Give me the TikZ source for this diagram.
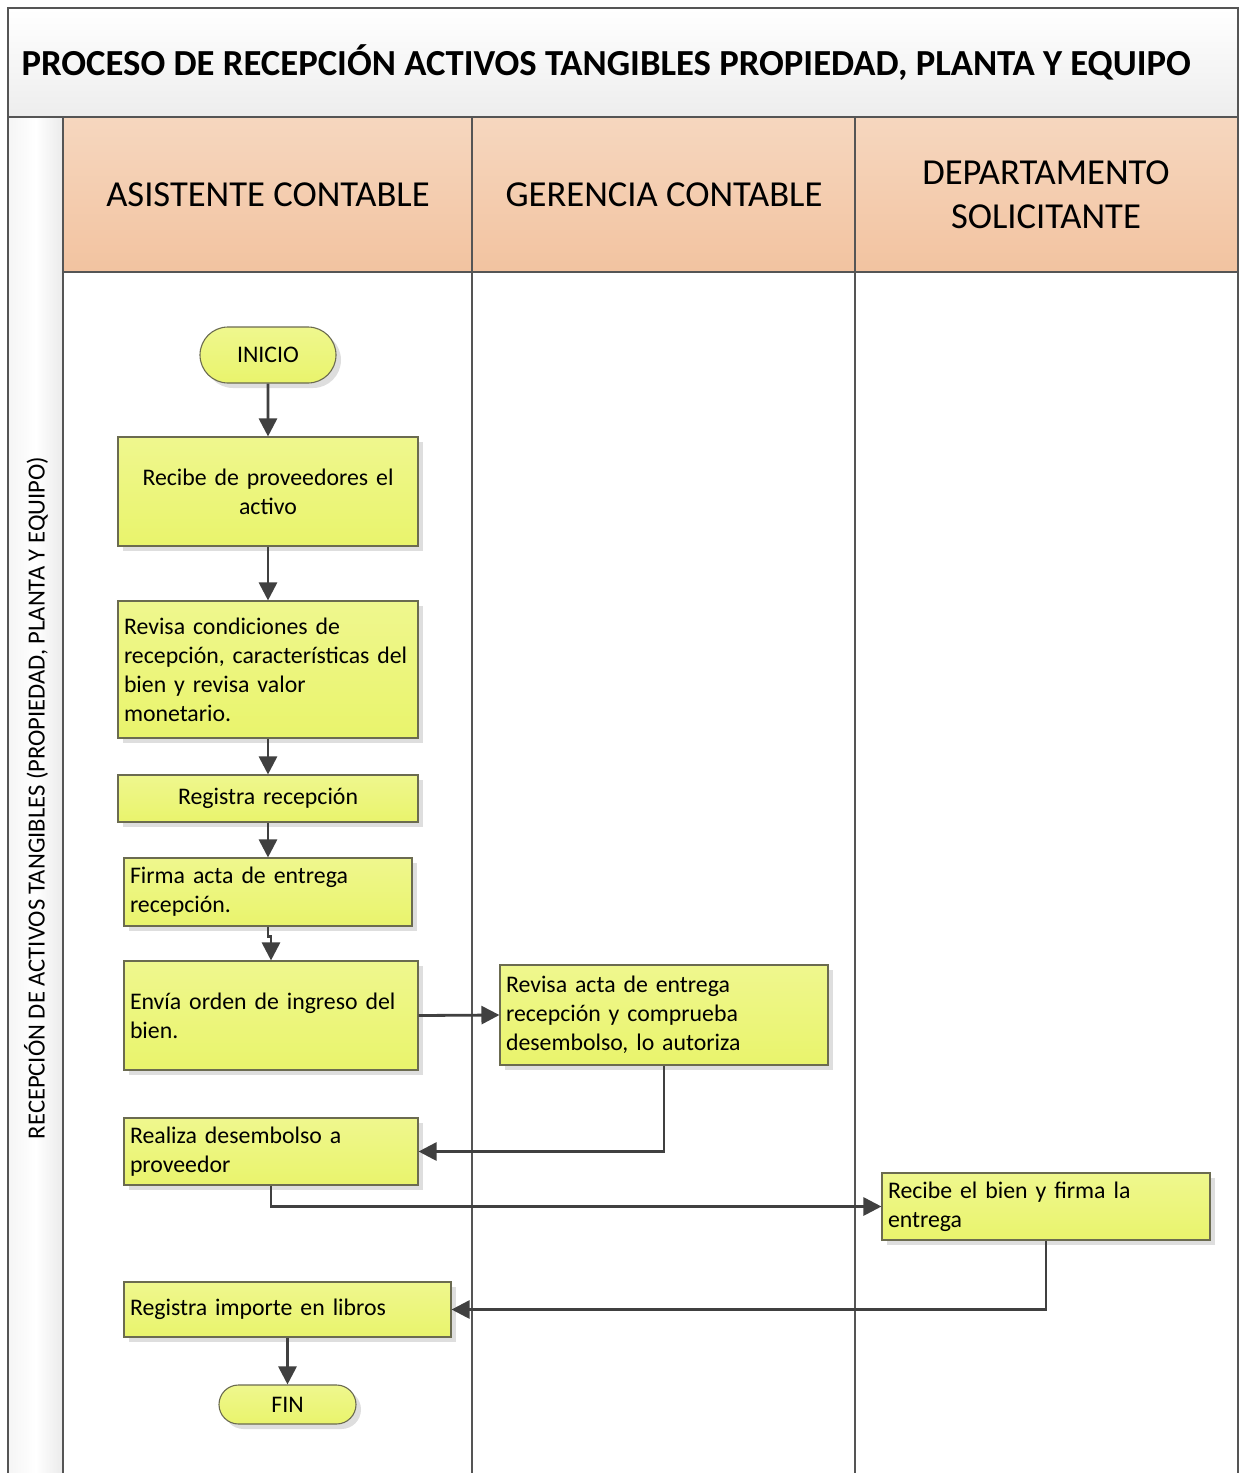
\documentclass[tikz,border=0pt]{standalone}
\usepackage{fontspec}
\setmainfont{Carlito}
\usetikzlibrary{arrows.meta,shapes.misc,shadows}
\definecolor{frameline}{HTML}{555555}
\definecolor{flowline}{HTML}{404040}
\definecolor{boxline}{HTML}{6B6B50}
\definecolor{boxtop}{HTML}{EFF78E}
\definecolor{boxbot}{HTML}{E9F46C}
\definecolor{headtop}{HTML}{F6D7BF}
\definecolor{headbot}{HTML}{F2C3A0}
\begin{document}
\begin{tikzpicture}[x=1pt,y=-1pt,
  lanehead/.style={font=\fontsize{36.6}{44}\selectfont, align=center, text=black},
  stepbox/.style={draw=boxline, line width=1.1pt, top color=boxtop, bottom color=boxbot,
    drop shadow={shadow xshift=5pt, shadow yshift=-5pt, fill=black, opacity=0.13},
    font=\fontsize{23.8}{29}\selectfont, inner xsep=6pt, inner ysep=0pt, align=left},
  terminal/.style={rounded rectangle, draw=boxline, line width=1.1pt, top color=boxtop, bottom color=boxbot,
    drop shadow={shadow xshift=5pt, shadow yshift=-5pt, fill=black, opacity=0.13},
    font=\fontsize{23.8}{29}\selectfont, inner sep=0pt},
  flow/.style={draw=flowline, line width=2.8pt, -{Triangle[length=18pt,width=18pt]}}]
\useasboundingbox (0,0) rectangle (1240,1473);
\fill[white] (0,0) rectangle (1240,1473);

% title band
\shade[top color=white, bottom color=black!7] (8,8) rectangle (1238,117);
% side strip
\shade[left color=black!4, right color=black!8, middle color=white] (8,117) rectangle (63,1473);
% lane headers
\shade[top color=headtop, bottom color=headbot] (63,117) rectangle (1238,272);

\begin{scope}[draw=frameline, line width=2pt]
  \draw (8,1473) -- (8,8) -- (1238,8) -- (1238,1473);
  \draw (8,117) -- (1238,117);
  \draw (63,272) -- (1238,272);
  \draw (63,117) -- (63,1473);
  \draw (472,117) -- (472,1473);
  \draw (855,117) -- (855,1473);
\end{scope}

\node[anchor=west, font=\fontsize{36.7}{44}\selectfont\bfseries] (title) at (18,63)
  {PROCESO DE RECEPCIÓN ACTIVOS TANGIBLES PROPIEDAD, PLANTA Y EQUIPO};
\node[rotate=90, font=\fontsize{24.6}{30}\selectfont] (pool) at (36,798)
  {RECEPCIÓN DE ACTIVOS TANGIBLES (PROPIEDAD, PLANTA Y EQUIPO)};

\node[lanehead] (laneA) at (268,195) {ASISTENTE CONTABLE};
\node[lanehead] (laneB) at (664,195) {GERENCIA CONTABLE};
\node[lanehead] (laneC) at (1046,195) {DEPARTAMENTO\\SOLICITANTE};

% process steps
\node[terminal, minimum width=136pt, minimum height=56pt] (start) at (268,355) {INICIO};
\node[stepbox, minimum width=300pt, text width=288pt, minimum height=109pt, align=center] (b1) at (268,491.5)
  {Recibe de proveedores el\\activo};
\node[stepbox, minimum width=300pt, text width=288pt, minimum height=137pt] (b2) at (268,669.5)
  {Revisa condiciones de\\recepción, características del\\bien y revisa valor\\monetario.};
\node[stepbox, minimum width=300pt, text width=288pt, minimum height=47pt, align=center] (b3) at (268,798.5)
  {Registra recepción};
\node[stepbox, minimum width=288pt, text width=276pt, minimum height=68pt] (b4) at (268,892)
  {Firma acta de entrega\\recepción.};
\node[stepbox, minimum width=294pt, text width=282pt, minimum height=109pt] (b5) at (271,1015.5)
  {Envía orden de ingreso del\\bien.};
\node[stepbox, minimum width=328pt, text width=316pt, minimum height=100pt] (b6) at (664,1015)
  {Revisa acta de entrega\\recepción y comprueba\\desembolso, lo autoriza};
\node[stepbox, minimum width=294pt, text width=282pt, minimum height=67pt] (b7) at (271,1151.5)
  {Realiza desembolso a\\proveedor};
\node[stepbox, minimum width=328pt, text width=316pt, minimum height=67pt] (b8) at (1046,1206.5)
  {Recibe el bien y firma la\\entrega};
\node[stepbox, minimum width=327pt, text width=315pt, minimum height=55pt] (b9) at (287.5,1309.5)
  {Registra importe en libros};
\node[terminal, minimum width=137pt, minimum height=39pt] (end) at (287.5,1404.5) {FIN};

% connectors
\draw[flow] (start) -- (b1);
\draw[flow] (b1) -- (b2);
\draw[flow] (b2) -- (b3);
\draw[flow] (b3) -- (b4);
\draw[flow] (b4.south) -- ++(0,10) -| (b5.north);
\draw[flow] (b5.east) -- (b6.west);
\draw[flow] (b6.south) |- (b7.east);
\draw[flow] (b7.south) |- (b8.west);
\draw[flow] (b8.south) |- (b9.east);
\draw[flow] (b9) -- (end);
\end{tikzpicture}
\end{document}
